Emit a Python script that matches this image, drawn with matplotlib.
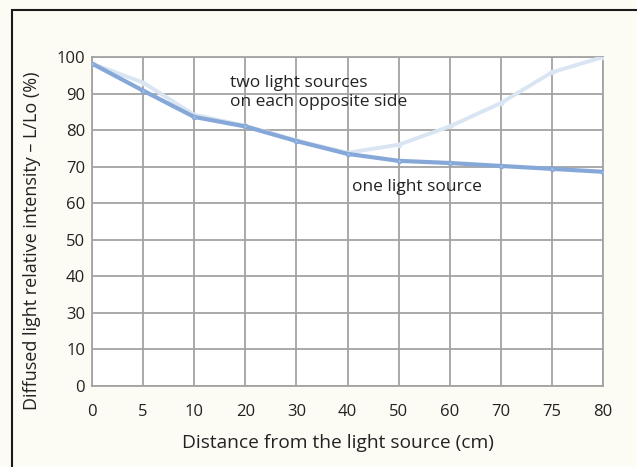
import matplotlib

matplotlib.use("Agg")
import matplotlib.pyplot as plt
from matplotlib.patches import Rectangle
import numpy as np

# x categories are evenly spaced even though the distances are not
DISTANCE = ["0", "5", "10", "20", "30", "40", "50", "60", "70", "75", "80"]
# y tick values are evenly spaced too (20 is missing in the original)
Y_TICKS = [0, 10, 30, 40, 50, 60, 70, 80, 90, 100]

ONE_SOURCE = [98.2, 90.8, 83.6, 81.0, 77.0, 73.5, 71.6, 71.0, 70.2, 69.4, 68.6]
TWO_SOURCES = [98.2, 93.0, 84.2, 81.2, 77.2, 73.8, 76.0, 81.0, 87.4, 95.8, 100.0]

BG = "#fdfcf4"
GRID = "#a3a3a3"


def ypos(v):
    return np.interp(v, Y_TICKS, np.arange(len(Y_TICKS)))


def main():
    plt.rcParams["font.family"] = ["Open Sans", "DejaVu Sans"]
    fig = plt.figure(figsize=(6.37, 4.67), dpi=100, facecolor=BG)
    # axes: x 92..603 px, y 57..386 px
    ax = fig.add_axes([92 / 637, 1 - 386 / 467, 511 / 637, 329 / 467])
    ax.set_facecolor("white")

    x = np.arange(len(DISTANCE))
    ax.set_xlim(0, len(DISTANCE) - 1)
    ax.set_ylim(0, len(Y_TICKS) - 1)
    ax.set_xticks(x)
    ax.set_xticklabels(DISTANCE)
    ax.set_yticks(np.arange(len(Y_TICKS)))
    ax.set_yticklabels([str(v) for v in Y_TICKS])
    ax.tick_params(length=0, labelsize=12, colors="#222222")
    ax.tick_params(axis="x", pad=13)
    ax.tick_params(axis="y", pad=5)
    ax.grid(True, color=GRID, lw=1.3)
    for s in ax.spines.values():
        s.set_color(GRID)
        s.set_linewidth(1.3)

    ax.plot(x, ypos(TWO_SOURCES), color="#d9e5f2", lw=2.8, marker="o",
            ms=3, zorder=3)
    ax.plot(x, ypos(ONE_SOURCE), color="#86a8d8", lw=3, marker="o",
            ms=3, mfc="#9fbbe2", mec="#86a8d8", zorder=4)

    ax.text(2.7, ypos(90.3), "two light sources\non each opposite side",
            fontsize=12.5, color="#222222", ha="left", va="center",
            linespacing=1.25, zorder=5)
    ax.text(5.08, ypos(64.5), "one light source", fontsize=12.5,
            color="#222222", ha="left", va="center", zorder=5)

    ax.set_xlabel("Distance from the light source (cm)", fontsize=13.8,
                  color="#222222")
    ax.xaxis.set_label_coords(0.481, -0.145)
    ax.set_ylabel("Diffused light relative intensity \u2013 L/Lo (%)",
                  fontsize=13, color="#222222")
    ax.yaxis.set_label_coords(-0.1, 0.44)

    # outer frame of the figure box (open on right and bottom)
    fig.patches.append(Rectangle((12 / 637, -0.1), 1.2, 1 - 10 / 467 + 0.1,
                                 transform=fig.transFigure, fill=False,
                                 edgecolor="#1a1a1a", lw=1.5))

    fig.savefig("out.png", dpi=100, facecolor=BG)
    plt.close(fig)


if __name__ == "__main__":
    main()
